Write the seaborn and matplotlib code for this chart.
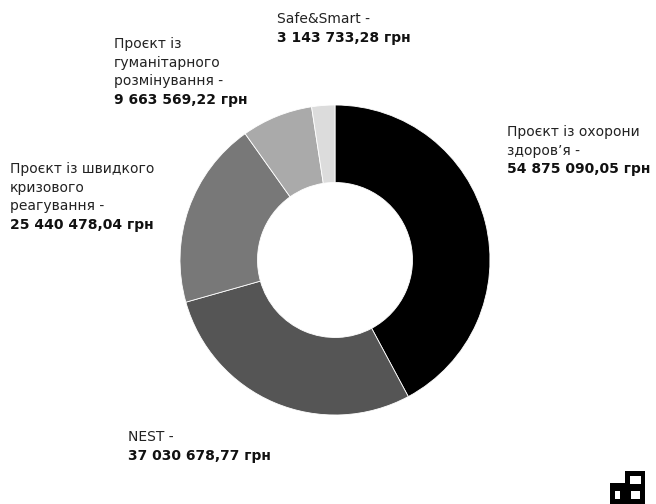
import matplotlib
matplotlib.use("Agg")
import matplotlib.pyplot as plt
import seaborn as sns
from matplotlib.patches import Rectangle

sns.set_theme(style="white")
plt.rcParams['font.family'] = ['DejaVu Sans']

projects = ["Проєкт із охорони\nздоров’я -", "NEST -", "Проєкт із швидкого\nкризового\nреагування -",
            "Проєкт із\nгуманітарного\nрозмінування -", "Safe&Smart -"]
values = [54875090.05, 37030678.77, 25440478.04, 9663569.22, 3143733.28]
value_labels = ["54 875 090,05 грн", "37 030 678,77 грн", "25 440 478,04 грн",
                "9 663 569,22 грн", "3 143 733,28 грн"]
colors = ["#000000", "#555555", "#787878", "#aaaaaa", "#dcdcdc"]

W, H = 656, 504
fig = plt.figure(figsize=(W / 100, H / 100), dpi=100)
fig.patch.set_facecolor("white")

cx, cy, r = 335, 260, 155
ax = fig.add_axes([(cx - r) / W, (H - cy - r) / H, 2 * r / W, 2 * r / H])
ax.pie(values, colors=colors, startangle=90, counterclock=False,
       wedgeprops=dict(width=0.5, edgecolor="white", linewidth=0.6))
ax.set_xlim(-1, 1)
ax.set_ylim(-1, 1)
ax.set_aspect("equal")
ax.axis("off")

# label anchor (left x, first line center y) in pixels
anchors = [(507, 132), (128, 437), (10, 169), (114, 44), (277, 19)]
line_h = 18.7
fs = 10.0
for name, vl, (lx, ly) in zip(projects, value_labels, anchors):
    lines = name.split("\n")
    for i, ln in enumerate(lines):
        fig.text(lx / W, 1 - (ly + i * line_h) / H, ln, fontsize=fs, color="#222222",
                 ha="left", va="center")
    fig.text(lx / W, 1 - (ly + len(lines) * line_h) / H, vl, fontsize=fs, color="#111111",
             fontweight="bold", ha="left", va="center")

# small logo in the bottom right corner
def px_rect(x0, y0, x1, y1, color):
    fig.patches.append(Rectangle((x0 / W, 1 - y1 / H), (x1 - x0) / W, (y1 - y0) / H,
                                 transform=fig.transFigure, facecolor=color, edgecolor="none"))

px_rect(610, 483, 626, 504, "black")
px_rect(625, 471, 645, 504, "black")
px_rect(615, 491, 620, 499, "white")
px_rect(630, 476, 641, 484, "white")
px_rect(631, 491, 640, 499, "white")

fig.savefig("out.png", dpi=100, facecolor="white")
